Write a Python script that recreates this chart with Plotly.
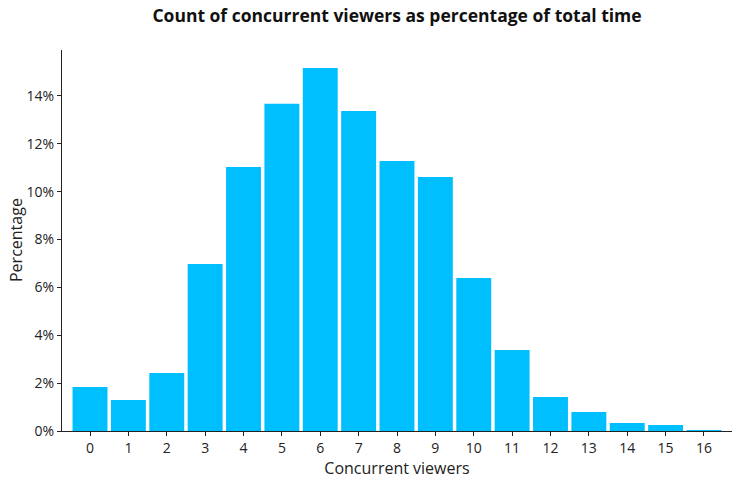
import plotly.graph_objects as go

viewers = list(range(17))
tick_labels = [str(v) for v in viewers]
percentages = [1.84, 1.30, 2.42, 6.98, 11.03, 13.67, 15.17, 13.37, 11.28, 10.61,
               6.39, 3.38, 1.42, 0.79, 0.33, 0.25, 0.04]

fig = go.Figure(go.Bar(
    x=viewers,
    y=[p / 100 for p in percentages],
    marker=dict(color="#00BFFF", line=dict(width=0)),
))

font = "Open Sans"
fig.update_layout(
    width=738, height=480,
    margin=dict(l=62, r=6, t=50, b=49, autoexpand=False),
    plot_bgcolor="white", paper_bgcolor="white",
    bargap=0.09,
    showlegend=False,
    font=dict(family=font, color="#222222", size=14),
    title=dict(text="<b>Count of concurrent viewers as percentage of total time</b>",
               x=0.5, xref="paper", y=1 - 15.5 / 480, yref="container", yanchor="middle",
               font=dict(family=font, size=17.5, color="#111111")),
    annotations=[dict(text="Percentage", textangle=-90, showarrow=False,
                      xref="paper", yref="paper", x=(15.5 - 62) / 670, y=0.5,
                      xanchor="center", yanchor="middle",
                      font=dict(family=font, size=16, color="#222222"))],
)
fig.update_xaxes(
    range=[-0.73, 16.73],
    tickvals=viewers, ticktext=tick_labels,
    showline=True, linecolor="#222222", linewidth=1,
    ticks="outside", ticklen=4, tickcolor="#222222",
    showgrid=False, zeroline=False, automargin=False,
    title=dict(text="Concurrent viewers", font=dict(size=16), standoff=4),
    tickfont=dict(size=14),
)
fig.update_yaxes(
    range=[0, 0.1592],
    tickvals=[0, 0.02, 0.04, 0.06, 0.08, 0.10, 0.12, 0.14],
    tickformat=".0%",
    showline=True, linecolor="#222222", linewidth=1,
    ticks="outside", ticklen=4, tickcolor="#222222",
    showgrid=False, zeroline=False, automargin=False,
    tickfont=dict(size=14),
)

fig.write_html("out.html", config={"displayModeBar": False},
               post_script="document.body.style.margin='0';")
